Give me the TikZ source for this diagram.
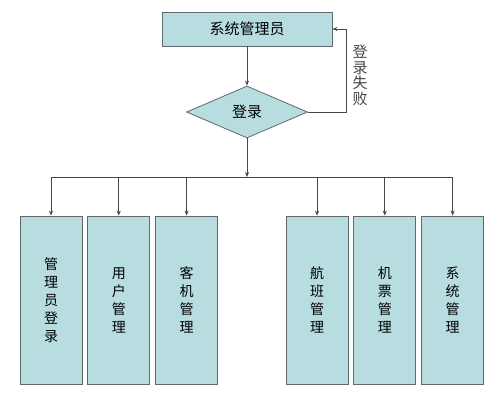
\documentclass[tikz,border=0pt]{standalone}
\usepackage{fontspec}
\newfontfamily\cjk{Noto Sans CJK SC}
\usepackage{xcolor}
\definecolor{FillTeal}{RGB}{183,221,225}
\definecolor{BorderGray}{RGB}{95,105,105}
\definecolor{LineGray}{RGB}{70,70,70}
\usetikzlibrary{shapes.geometric, arrows.meta, positioning}
\tikzset{
  % Module box
  modbox/.style={
    rectangle, draw=BorderGray, fill=FillTeal, line width=0.8pt,
    minimum width=62pt, minimum height=168pt,
    align=center, font=\cjk\fontsize{14}{18}\selectfont, inner sep=0pt
  },
  % Decision diamond
  decision/.style={
    diamond, draw=BorderGray, fill=FillTeal, line width=0.8pt,
    minimum width=121pt, minimum height=52pt,
    font=\cjk\fontsize{15}{18}\selectfont, inner sep=0pt
  },
  % Arrows
  arr/.style={-{Stealth[length=5pt,width=4pt]}, line width=0.7pt, LineGray},
}

\begin{document}
\begin{tikzpicture}[x=1pt, y=-1pt]
  \useasboundingbox (0,0) rectangle (499,407);

  %% Admin and login
  \node[modbox, minimum width=170pt, minimum height=34pt,
        font=\cjk\fontsize{15}{18}\selectfont] (admin) at (247,29) {系统管理员};
  \node[decision] (login) at (247,112) {登录};
  \coordinate (bus) at (247,177);

  %% Modules
  \node[modbox] (m1) at (51,300) {管\\理\\员\\登\\录};
  \node[modbox, right=5pt of m1] (m2) {用\\户\\管\\理};
  \node[modbox, right=5pt of m2] (m3) {客\\机\\管\\理};
  \node[modbox] (m4) at (317,300) {航\\班\\管\\理};
  \node[modbox, right=5pt of m4] (m5) {机\\票\\管\\理};
  \node[modbox, right=5pt of m5] (m6) {系\\统\\管\\理};

  %% Connections
  \draw[arr] (admin) -- (login);
  \draw[arr] (login.east) -- ++(38,0) |- (admin.east)
    node[pos=0.22, right=3pt, align=center, font=\cjk\fontsize{15}{15.5}\selectfont,
         text=LineGray] {登\\录\\失\\败};
  \draw[arr] (login) -- (bus);
  \foreach \m in {m1,m2,m3,m4,m5,m6}
    \draw[arr] (bus) -| (\m.north);

\end{tikzpicture}
\end{document}
